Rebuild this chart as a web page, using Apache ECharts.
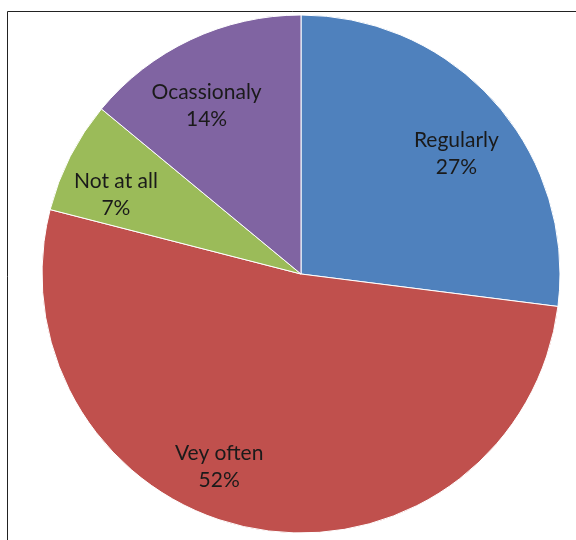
<!DOCTYPE html>
<html><head><meta charset="utf-8">
<script src="https://cdn.jsdelivr.net/npm/echarts@6/dist/echarts.min.js"></script>
<style>html,body{margin:0;padding:0;background:#fff}#c{width:576px;height:540px}</style>
</head><body><div id="c"></div>
<script>
const categories = ['Regularly', 'Vey often', 'Not at all', 'Ocassionaly'];
const values = [27, 52, 7, 14];
const colors = ['#4F81BD', '#C0504D', '#9BBB59', '#8064A2'];
const labelOffsets = [[56, -33], [-57, 63], [-67, -19], [-38, -48]];

const chart = echarts.init(document.getElementById('c'), null, {renderer: 'canvas'});
chart.setOption({
  animation: false,
  graphic: [{
    type: 'rect', silent: true,
    shape: {x: 7.5, y: 11.5, width: 700, height: 700},
    style: {fill: 'none', stroke: '#222', lineWidth: 1}
  }],
  series: [{
    type: 'pie',
    center: [301, 274],
    radius: [0, 259],
    startAngle: 90,
    clockwise: true,
    itemStyle: {borderColor: '#fff', borderWidth: 1},
    label: {
      show: true, position: 'inside',
      formatter: p => p.name + '\n' + Math.round(p.percent) + '%',
      fontFamily: 'Lato', fontSize: 21, color: '#1a1a1a', lineHeight: 27
    },
    labelLine: {show: false},
    emphasis: {disabled: true},
    data: categories.map((n, i) => ({
      name: n, value: values[i],
      itemStyle: {color: colors[i]},
      label: {offset: labelOffsets[i]}
    }))
  }]
});
</script></body></html>
